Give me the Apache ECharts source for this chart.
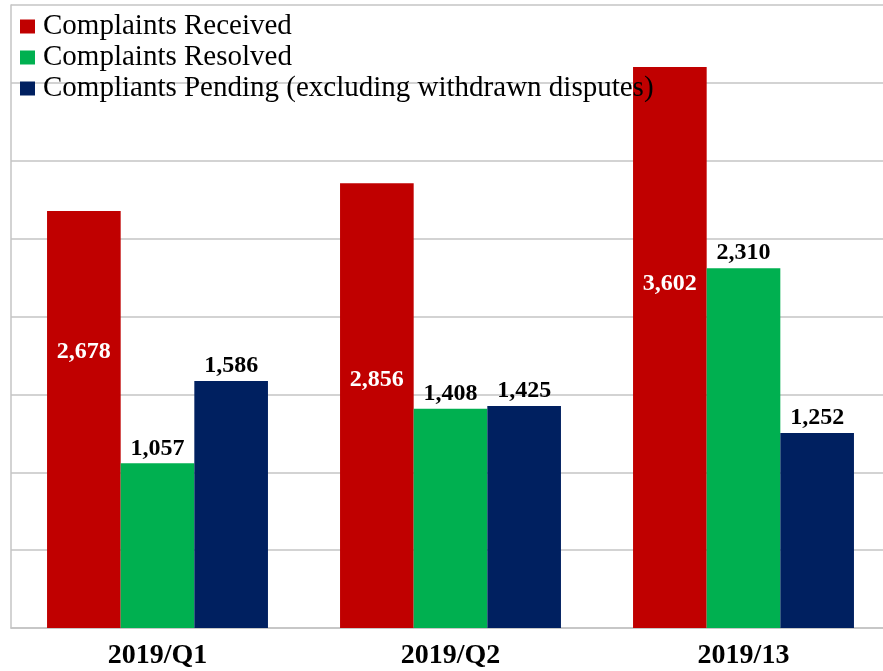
<!DOCTYPE html>
<html>
<head>
<meta charset="utf-8">
<script src="https://cdn.jsdelivr.net/npm/echarts@6/dist/echarts.min.js"></script>
<style>html,body{margin:0;padding:0;background:#fff;overflow:hidden;width:883px;height:671px}#c{width:890px;height:671px}</style>
</head>
<body>
<div id="c"></div>
<script>
const categories = ['2019/Q1', '2019/Q2', '2019/13'];
const seriesNames = ['Complaints Received', 'Complaints Resolved', 'Compliants Pending (excluding withdrawn disputes)'];
const received = [2678, 2856, 3602];
const resolved = [1057, 1408, 2310];
const pending = [1586, 1425, 1252];

const colors = ['#C00000', '#00B050', '#002060'];
const receivedLabelOffsets = [[0, -68], [0, -26], [0, -64]];
const FONT = '"Liberation Serif", "DejaVu Serif", serif';

const chart = echarts.init(document.getElementById('c'));
const fmt = p => p.value.toLocaleString('en-US');

chart.setOption({
  animation: false,
  color: colors,
  grid: { left: 11, top: 5, right: 0, bottom: 43, containLabel: false },
  legend: {
    orient: 'vertical', left: 15, top: 7,
    itemWidth: 15, itemHeight: 14, itemGap: 2, icon: 'rect',
    textStyle: { fontFamily: FONT, fontSize: 29, color: '#000', lineHeight: 29, padding: [0, 0, 0, 3] },
    data: seriesNames
  },
  xAxis: {
    type: 'category', data: categories,
    axisLine: { lineStyle: { color: '#c4c4c4', width: 1.5 } },
    axisTick: { show: false },
    axisLabel: { fontFamily: FONT, fontSize: 28, fontWeight: 'bold', color: '#000', margin: 14 }
  },
  yAxis: {
    type: 'value', min: 0, max: 4000, interval: 500,
    axisLine: { show: true, lineStyle: { color: '#c4c4c4', width: 1.5 } },
    axisLabel: { show: false }, axisTick: { show: false },
    splitLine: { lineStyle: { color: '#c4c4c4', width: 1.5 } }
  },
  series: [
    {
      name: seriesNames[0], type: 'bar', barGap: 0, barCategoryGap: '24.6%',
      data: received.map((v, i) => ({ value: v, label: { offset: receivedLabelOffsets[i] } })),
      label: { show: true, position: 'inside', formatter: fmt, color: '#fff', fontFamily: FONT, fontSize: 24, fontWeight: 'bold' }
    },
    {
      name: seriesNames[1], type: 'bar', barGap: 0, barCategoryGap: '24.6%',
      data: resolved,
      label: { show: true, position: 'top', distance: 3, formatter: fmt, color: '#000', fontFamily: FONT, fontSize: 24, fontWeight: 'bold' }
    },
    {
      name: seriesNames[2], type: 'bar', barGap: 0, barCategoryGap: '24.6%',
      data: pending,
      label: { show: true, position: 'top', distance: 3, formatter: fmt, color: '#000', fontFamily: FONT, fontSize: 24, fontWeight: 'bold' }
    }
  ]
});
</script>
</body>
</html>
